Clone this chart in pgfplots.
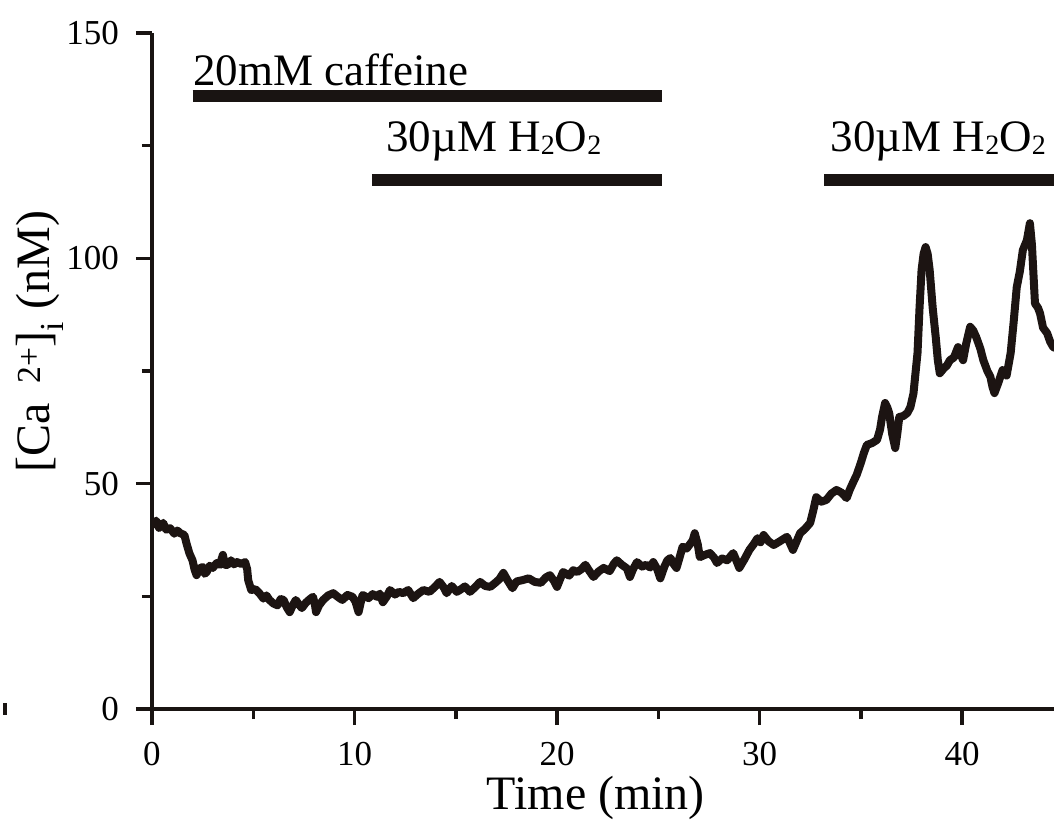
\documentclass[border=0pt]{standalone}
\usepackage{pgfplots}
\pgfplotsset{compat=1.18}
\usepackage{fontspec}
\setmainfont{Liberation Serif}
\definecolor{trace}{RGB}{28,20,18}
\definecolor{ax}{RGB}{25,20,18}
\newcommand{\sub}[1]{\raisebox{-2.5pt}{\fontsize{28}{30}\selectfont #1}}
\begin{document}
\begin{tikzpicture}[trim left=-152pt, trim right=902pt]
\path (-152pt,-110pt) rectangle (902pt,709pt);
\draw[ax, line width=4pt] (-147pt,6pt) -- (-147pt,-6pt);
\begin{axis}[
  at={(0pt,0pt)}, anchor=south west,
  scale only axis, width=902pt, height=676pt,
  xmin=0, xmax=44.54, ymin=0, ymax=150,
  enlargelimits=false,
  axis x line=bottom, axis y line=left,
  axis line style={-, line width=3.5pt, color=ax},
  tick align=outside,
  major tick length=16pt, minor tick length=10pt,
  every tick/.style={line width=3.5pt, color=ax},
  xtick={0,10,20,30,40}, minor xtick={5,15,25,35},
  ytick={0,50,100,150}, minor ytick={25,75,125},
  /pgf/number format/assume math mode=true,
  ticklabel style={font=\fontsize{35}{40}\selectfont, inner sep=0pt},
  xticklabel style={yshift=-17pt},
  yticklabel style={xshift=-17pt},
  xlabel={Time (min)},
  ylabel={[Ca\, \textsuperscript{2+}]\textsubscript{i} (nM)},
  label style={font=\fontsize{48}{56}\selectfont},
  xlabel style={at={(axis description cs:0.492,-0.1317)}, anchor=center},
  ylabel style={at={(axis description cs:-0.1242,0.543)}, anchor=center},
]
\addplot[trace, line width=8pt, line join=round, line cap=round] coordinates {
(0,40.8) (0.2,41.8) (0.35,40.2) (0.55,41.3) (0.7,39.8) (0.9,40.1) (1.1,38.9) (1.25,39.6) (1.4,39.0) (1.6,38.6)
(1.7,36.8) (1.85,34.5) (2.0,33.0) (2.1,31.0) (2.2,29.7) (2.35,31.2) (2.5,31.5) (2.6,30.0) (2.7,30.4) (2.85,31.8)
(3.0,31.3) (3.2,32.4) (3.35,32.0) (3.5,34.2) (3.6,32.0) (3.75,32.0) (3.9,33.0) (4.05,32.1) (4.2,32.6) (4.4,32.2)
(4.6,32.6) (4.7,31.0) (4.75,28.6) (4.9,26.4) (5.1,26.6) (5.3,25.7) (5.5,24.5) (5.65,25.2) (5.8,24.2) (6.0,23.4)
(6.2,23.0) (6.35,24.4) (6.5,24.2) (6.65,22.6) (6.8,21.5) (6.95,23.0) (7.1,24.2) (7.25,23.2) (7.4,22.4) (7.6,23.6)
(7.8,24.4) (7.95,24.9) (8.05,23.0) (8.1,21.5) (8.25,23.0) (8.45,24.2) (8.7,25.2) (8.95,25.7) (9.2,24.8) (9.4,24.2)
(9.65,25.3) (9.9,24.9) (10.05,23.8) (10.2,21.5) (10.3,23.5) (10.4,25.3) (10.7,24.6) (10.9,25.5) (11.1,24.9) (11.25,25.6)
(11.4,23.7) (11.6,25.0) (11.75,26.4) (12.0,25.4) (12.2,26.0) (12.4,25.7) (12.65,26.4) (12.9,24.6) (13.15,25.6) (13.4,26.4)
(13.7,26.0) (13.95,27.0) (14.2,28.2) (14.4,27.0) (14.55,25.7) (14.8,27.3) (15.05,26.0) (15.2,26.4) (15.45,27.2) (15.7,26.0)
(15.95,27.0) (16.2,28.2) (16.45,27.3) (16.7,27.1) (16.95,28.0) (17.15,28.8) (17.35,30.2) (17.55,28.6) (17.8,26.8) (18.0,28.3)
(18.3,28.6) (18.6,29.0) (18.9,28.2) (19.2,28.0) (19.45,29.2) (19.65,29.7) (19.85,28.4) (20.0,27.1) (20.15,28.8) (20.3,30.4)
(20.6,29.6) (20.8,30.8) (21.0,30.4) (21.2,31.0) (21.4,32.0) (21.6,30.6) (21.8,29.3) (22.05,30.5) (22.3,31.3) (22.6,30.6)
(22.8,32.2) (22.95,33.0) (23.2,32.0) (23.45,31.2) (23.6,29.3) (23.75,31.0) (23.95,32.6) (24.2,31.6) (24.4,32.0) (24.6,31.4)
(24.75,32.6) (24.95,31.0) (25.1,29.0) (25.3,31.6) (25.45,33.0) (25.6,33.5) (25.75,32.2) (25.9,31.3) (26.05,33.6) (26.2,36.0)
(26.4,35.6) (26.6,36.8) (26.7,37.4) (26.8,39.0) (26.95,36.5) (27.05,33.7) (27.3,34.2) (27.55,34.6) (27.75,33.6) (27.9,32.4)
(28.15,33.4) (28.4,33.0) (28.55,33.8) (28.7,34.6) (28.85,33.0) (29.0,31.3) (29.25,33.2) (29.5,35.3) (29.7,36.5) (29.9,37.9)
(30.05,37.0) (30.2,38.6) (30.45,37.2) (30.7,36.4) (31.0,37.2) (31.35,38.2) (31.5,36.8) (31.65,35.3) (31.85,37.4) (32.0,39.0)
(32.25,40.0) (32.5,41.3) (32.65,44.0) (32.8,47.0) (33.05,46.0) (33.3,46.4) (33.55,47.8) (33.8,48.6) (34.05,48.0) (34.3,46.8)
(34.45,48.6) (34.6,50.1) (34.8,52.0) (35.0,54.6) (35.15,56.8) (35.3,58.6) (35.55,59.0) (35.8,59.7) (35.95,62.0) (36.05,64.8)
(36.2,67.9) (36.3,67.0) (36.4,65.7) (36.55,61.0) (36.7,57.9) (36.8,61.0) (36.9,64.8) (37.1,65.0) (37.3,65.7) (37.45,67.0)
(37.6,70.0) (37.8,79.0) (37.9,89.0) (38.0,97.4) (38.1,101.0) (38.2,102.5) (38.3,101.0) (38.4,97.4) (38.55,89.0) (38.7,82.5)
(38.8,77.5) (38.9,74.5) (39.1,75.6) (39.25,76.2) (39.4,77.4) (39.6,78.0) (39.8,80.3) (39.95,78.5) (40.05,77.4) (40.2,81.0)
(40.4,84.8) (40.55,84.0) (40.7,82.5) (40.9,80.0) (41.05,77.4) (41.25,75.0) (41.4,73.7) (41.5,71.5) (41.6,70.1) (41.8,72.5)
(42.0,75.2) (42.2,74.0) (42.4,79.0) (42.55,86.0) (42.7,93.6) (42.85,97.0) (43.0,101.8) (43.2,104.0) (43.35,107.8) (43.45,103.0)
(43.6,90.0) (43.75,89.0) (43.85,87.8) (44.0,84.6) (44.2,83.4) (44.35,81.5) (44.5,80.3) (44.7,80.0)
};
\draw[ax, line width=12pt] (axis cs:2.0,136) -- (axis cs:25.2,136);
\draw[ax, line width=12pt] (axis cs:10.86,117.4) -- (axis cs:25.2,117.4);
\draw[ax, line width=12pt] (axis cs:33.2,117.4) -- (axis cs:47,117.4);
\node[anchor=base west, inner sep=0pt, font=\fontsize{45}{50}\selectfont] at (axis cs:2.02,138.4) {20mM caffeine};
\node[anchor=base west, inner sep=0pt, font=\fontsize{45}{50}\selectfont] at (axis cs:11.55,123.6) {30µM H\sub{2}O\sub{2}};
\node[anchor=base west, inner sep=0pt, font=\fontsize{45}{50}\selectfont] at (axis cs:33.5,123.6) {30µM H\sub{2}O\sub{2}};
\end{axis}
\end{tikzpicture}
\end{document}
